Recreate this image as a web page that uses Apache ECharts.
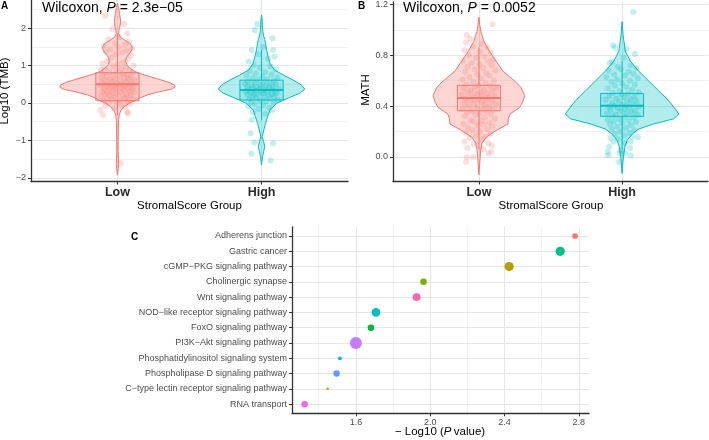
<!DOCTYPE html>
<html><head><meta charset="utf-8">
<script src="https://cdn.jsdelivr.net/npm/echarts@6/dist/echarts.min.js"></script>
<style>html,body{margin:0;padding:0;background:#fff}#c{width:709px;height:440px}</style>
</head><body><div id="c"></div>
<script>
// ---------------- data ----------------
const groups = ['Low', 'High'];
const groupColors = ['#F8766D', '#00BFC4'];
const pValueA = '2.3e−05';
const pValueB = '0.0052';
const tmbTicks = [-2, -1, 0, 1, 2];
const mathTicks = [0, 0.4, 0.8, 1.2];
const pTicks = [1.6, 2.0, 2.4, 2.8];

// violin outlines: [value, half-width in category units]
const tmbLowViolin = [[2.67,0],[2.55,0.007],[2.4,0.014],[2.25,0.02],[2.15,0.022],[2.05,0.017],[1.95,0.01],[1.85,0.009],[1.76,0.02],[1.68,0.05],[1.6,0.085],[1.5,0.103],[1.42,0.1],[1.33,0.085],[1.22,0.062],[1.1,0.057],[1.0,0.068],[0.92,0.09],[0.84,0.12],[0.77,0.17],[0.7,0.23],[0.62,0.3],[0.55,0.36],[0.48,0.395],[0.43,0.40],[0.37,0.375],[0.30,0.29],[0.22,0.21],[0.14,0.16],[0.08,0.13],[0.0,0.085],[-0.1,0.047],[-0.2,0.025],[-0.3,0.013],[-0.45,0.008],[-0.7,0.006],[-1.0,0.005],[-1.3,0.005],[-1.5,0.007],[-1.62,0.008],[-1.75,0.006],[-1.93,0]];
const tmbHighViolin = [[2.35,0],[2.25,0.004],[2.1,0.006],[1.95,0.008],[1.82,0.013],[1.7,0.022],[1.6,0.028],[1.42,0.035],[1.24,0.046],[1.06,0.058],[0.88,0.09],[0.75,0.15],[0.61,0.22],[0.48,0.277],[0.37,0.30],[0.26,0.265],[0.13,0.185],[-0.01,0.104],[-0.19,0.058],[-0.37,0.042],[-0.54,0.028],[-0.72,0.016],[-0.9,0.005],[-1.03,0.014],[-1.17,0.023],[-1.3,0.014],[-1.44,0.007],[-1.66,0]];
const mathLowViolin = [[1.10,0],[1.04,0.006],[0.99,0.013],[0.91,0.035],[0.83,0.075],[0.754,0.12],[0.676,0.167],[0.598,0.25],[0.546,0.295],[0.481,0.32],[0.43,0.305],[0.39,0.285],[0.338,0.217],[0.30,0.205],[0.26,0.203],[0.208,0.12],[0.156,0.051],[0.11,0.022],[0.05,0.012],[-0.03,0.007],[-0.14,0]];
const mathHighViolin = [[1.065,0],[0.96,0.007],[0.83,0.023],[0.754,0.058],[0.676,0.116],[0.598,0.186],[0.52,0.256],[0.442,0.326],[0.377,0.372],[0.338,0.396],[0.30,0.36],[0.26,0.22],[0.22,0.116],[0.18,0.07],[0.13,0.035],[0.078,0.019],[0.0,0.009],[-0.13,0]];

// box stats: [lower whisker, Q1, median, Q3, upper whisker]
const tmbLowBox = [-0.33, 0.06, 0.50, 0.81, 1.86];
const tmbHighBox = [-0.45, 0.08, 0.35, 0.61, 1.42];
const mathLowBox = [0.06, 0.364, 0.465, 0.564, 0.86];
const mathHighBox = [0.06, 0.32, 0.403, 0.50, 0.755];

// jittered samples: [jitter offset, value]
const tmbLowPoints = [[-0.086,2.33],[0.046,2.11],[0.069,1.86],[-0.035,1.97],[0.012,1.76],[-0.062,1.70],[0.081,1.64],[-0.018,1.60],[0.052,1.56],[-0.094,1.53],[0.006,1.49],[0.103,1.46],[-0.047,1.43],[0.064,1.40],[-0.081,1.37],[0.031,1.34],[-0.011,1.30],[0.092,1.27],[-0.041,1.22],[0.073,1.17],[-0.069,1.12],[0.041,1.09],[-0.104,1.06],[0.002,1.03],[0.112,1.00],[-0.028,0.98],[0.058,0.95],[-0.087,0.93],[0.026,0.91],[-0.115,0.89],[0.085,0.87],[-0.006,0.85],[-0.058,0.83],[0.107,0.82],[0.037,0.80],[-0.098,0.78],[0.066,0.76],[-0.031,0.75],[0.013,0.73],[-0.075,0.71],[0.094,0.70],[-0.118,0.68],[0.047,0.67],[-0.017,0.65],[0.078,0.64],[-0.052,0.62],[0.119,0.61],[-0.091,0.60],[0.021,0.58],[-0.036,0.57],[0.061,0.56],[-0.108,0.54],[0.099,0.53],[-0.002,0.52],[-0.066,0.51],[0.034,0.50],[0.087,0.49],[-0.025,0.48],[-0.117,0.47],[0.052,0.46],[0.008,0.45],[-0.079,0.44],[0.113,0.43],[-0.044,0.42],[0.071,0.41],[-0.012,0.40],[-0.096,0.39],[0.029,0.38],[0.104,0.37],[-0.058,0.36],[0.044,0.35],[-0.021,0.34],[0.082,0.32],[-0.107,0.31],[0.016,0.30],[-0.069,0.29],[0.117,0.28],[-0.033,0.27],[0.059,0.25],[-0.088,0.24],[0.003,0.23],[0.093,0.22],[-0.049,0.20],[0.038,0.19],[-0.114,0.18],[0.076,0.16],[-0.015,0.15],[-0.073,0.13],[0.049,0.12],[0.109,0.10],[-0.039,0.09],[0.019,0.07],[-0.099,0.06],[0.067,0.04],[-0.008,0.02],[-0.061,0.00],[0.088,-0.02],[0.027,-0.05],[-0.083,-0.08],[0.054,-0.11],[-0.023,-0.14],[-0.118,-0.19],[0.072,-0.24],[-0.100,-0.32],[0.070,-0.28],[0.023,-1.61]];
const tmbHighPoints = [[-0.030,2.11],[-0.046,1.95],[0.076,1.73],[-0.069,1.42],[0.080,1.42],[0.090,1.24],[-0.090,1.10],[0.010,1.50],[-0.020,1.30],[0.045,1.18],[-0.055,1.02],[0.062,0.98],[-0.012,0.94],[0.098,0.90],[-0.080,0.86],[0.025,0.83],[-0.040,0.79],[0.070,0.76],[-0.105,0.73],[0.005,0.71],[0.112,0.68],[-0.063,0.66],[0.038,0.64],[-0.025,0.62],[0.085,0.60],[-0.095,0.58],[0.015,0.56],[-0.048,0.55],[0.060,0.53],[-0.115,0.51],[0.100,0.50],[-0.008,0.48],[-0.070,0.47],[0.030,0.46],[0.078,0.44],[-0.035,0.43],[-0.100,0.42],[0.050,0.41],[0.002,0.40],[-0.060,0.39],[0.118,0.38],[-0.018,0.37],[0.068,0.36],[-0.088,0.35],[0.022,0.34],[-0.042,0.33],[0.092,0.32],[-0.110,0.31],[0.040,0.30],[-0.005,0.29],[-0.075,0.28],[0.105,0.27],[0.012,0.26],[-0.052,0.25],[0.072,0.24],[-0.028,0.22],[-0.098,0.21],[0.048,0.20],[0.088,0.18],[-0.062,0.17],[0.018,0.15],[-0.038,0.13],[0.058,0.11],[-0.085,0.10],[0.110,0.08],[-0.010,0.06],[0.032,0.04],[-0.072,0.02],[0.082,0.00],[-0.045,-0.03],[0.010,-0.06],[-0.092,-0.09],[0.055,-0.12],[-0.020,-0.16],[0.070,-0.20],[-0.060,-0.24],[0.025,-0.29],[-0.069,-0.45],[-0.076,-0.81],[-0.050,-1.06],[0.080,-1.08],[-0.070,-1.36],[0.063,-1.54]];
const mathLowPoints = [[0.096,1.044],[-0.085,0.96],[-0.060,0.93],[-0.090,0.90],[0.020,0.89],[-0.040,0.87],[0.060,0.86],[-0.100,0.84],[0.010,0.83],[0.085,0.82],[-0.070,0.80],[0.040,0.79],[-0.020,0.78],[0.100,0.77],[-0.110,0.76],[0.065,0.75],[-0.050,0.74],[0.005,0.73],[0.090,0.72],[-0.080,0.71],[0.030,0.70],[-0.030,0.69],[0.115,0.68],[-0.095,0.67],[0.050,0.66],[-0.010,0.65],[0.075,0.64],[-0.065,0.63],[0.015,0.62],[-0.115,0.61],[0.105,0.60],[-0.040,0.59],[0.045,0.58],[-0.085,0.57],[0.000,0.565],[0.080,0.56],[-0.025,0.55],[0.120,0.545],[-0.105,0.54],[0.035,0.53],[-0.055,0.525],[0.095,0.52],[0.010,0.51],[-0.075,0.505],[0.060,0.50],[-0.015,0.495],[-0.120,0.49],[0.025,0.485],[0.110,0.48],[-0.045,0.475],[0.070,0.47],[-0.090,0.46],[-0.005,0.455],[0.050,0.45],[-0.060,0.445],[0.088,0.44],[0.018,0.43],[-0.100,0.425],[-0.032,0.42],[0.118,0.415],[0.040,0.41],[-0.070,0.40],[0.072,0.395],[-0.012,0.39],[-0.112,0.38],[0.030,0.375],[0.098,0.37],[-0.048,0.36],[0.055,0.355],[-0.082,0.35],[0.005,0.34],[0.085,0.335],[-0.025,0.33],[-0.098,0.32],[0.042,0.31],[0.112,0.30],[-0.060,0.29],[0.015,0.285],[-0.038,0.28],[0.075,0.27],[-0.108,0.26],[0.032,0.255],[-0.010,0.25],[0.095,0.24],[-0.075,0.23],[0.058,0.22],[-0.045,0.21],[0.008,0.20],[-0.092,0.19],[0.080,0.18],[-0.020,0.17],[0.045,0.16],[-0.065,0.15],[0.020,0.14],[-0.100,0.12],[0.065,0.11],[-0.035,0.10],[0.090,0.09],[-0.080,0.07],[0.030,0.06],[0.086,0.04],[0.065,0.03],[-0.086,0.00],[-0.040,0.00],[-0.090,-0.04]];
const mathHighPoints = [[0.078,1.14],[-0.063,0.88],[-0.050,0.86],[0.030,0.85],[0.090,0.81],[-0.070,0.75],[-0.085,0.74],[0.010,0.78],[0.060,0.72],[-0.030,0.71],[0.100,0.70],[-0.010,0.69],[-0.095,0.68],[0.045,0.67],[0.080,0.655],[-0.055,0.65],[0.020,0.64],[-0.110,0.63],[0.110,0.62],[-0.035,0.61],[0.055,0.60],[-0.075,0.59],[0.000,0.58],[0.090,0.57],[-0.050,0.56],[0.030,0.55],[-0.100,0.54],[0.070,0.53],[-0.018,0.52],[0.115,0.51],[-0.065,0.505],[0.040,0.50],[-0.005,0.49],[-0.090,0.48],[0.085,0.475],[0.015,0.47],[-0.040,0.46],[0.060,0.455],[-0.115,0.45],[0.100,0.44],[-0.020,0.435],[0.035,0.43],[-0.070,0.42],[0.075,0.415],[0.005,0.41],[-0.055,0.405],[0.120,0.40],[-0.095,0.395],[0.050,0.39],[-0.030,0.385],[0.020,0.38],[-0.080,0.37],[0.090,0.365],[-0.010,0.36],[0.065,0.35],[-0.105,0.345],[0.030,0.34],[-0.045,0.335],[0.108,0.33],[-0.065,0.32],[0.012,0.315],[0.080,0.31],[-0.025,0.30],[-0.100,0.295],[0.045,0.29],[-0.060,0.28],[0.095,0.275],[0.000,0.27],[-0.085,0.26],[0.060,0.25],[-0.035,0.24],[0.025,0.23],[-0.070,0.22],[0.085,0.21],[-0.015,0.20],[0.050,0.19],[-0.050,0.18],[0.015,0.17],[0.070,0.16],[-0.080,0.15],[0.110,0.156],[-0.030,0.14],[0.060,0.12],[-0.060,0.12],[0.020,0.11],[-0.090,0.08],[0.055,0.07],[-0.100,0.04],[-0.010,0.05],[-0.097,0.013],[-0.016,0.03],[0.020,0.03],[0.060,0.01],[-0.020,-0.04]];

// panel C
const pathways = ['Adherens junction','Gastric cancer','cGMP−PKG signaling pathway','Cholinergic synapse','Wnt signaling pathway','NOD−like receptor signaling pathway','FoxO signaling pathway','PI3K−Akt signaling pathway','Phosphatidylinositol signaling system','Phospholipase D signaling pathway','C−type lectin receptor signaling pathway','RNA transport'];
const negLog10P = [2.78, 2.70, 2.425, 1.964, 1.927, 1.708, 1.681, 1.60, 1.514, 1.496, 1.448, 1.324];
const geneCount = [5, 10, 10, 6, 8, 9, 6, 15, 3, 6, 2, 6];
const pathwayColors = ['#F8766D','#00C08B','#B79F00','#7CAE00','#FF64B0','#00BFC4','#00BA38','#C77CFF','#00B4F0','#619CFF','#DE8C00','#F564E3'];

// ---------------- chart ----------------
const FONT = '"Liberation Sans", Arial, Helvetica, sans-serif';
function rgba(hex, a) {
  const n = parseInt(hex.slice(1), 16);
  return 'rgba(' + (n >> 16) + ',' + ((n >> 8) & 255) + ',' + (n & 255) + ',' + a + ')';
}
const minus = v => (v < 0 ? '−' + Math.abs(v) : String(v));
const AXIS_COL = '#333';
const axisLine = { show: true, onZero: false, lineStyle: { color: AXIS_COL, width: 1.3 } };
const tick = (vals) => ({ show: true, customValues: vals, length: 3, lineStyle: { color: AXIS_COL, width: 1 } });

function gridLineSeries(idx, hMajor, hMinor, vMajor, vMinor) {
  const data = [];
  hMinor.forEach(v => data.push({ yAxis: v, lineStyle: { color: '#F2F2F2', width: 1, type: 'solid' } }));
  vMinor.forEach(v => data.push({ xAxis: v, lineStyle: { color: '#F2F2F2', width: 1, type: 'solid' } }));
  hMajor.forEach(v => data.push({ yAxis: v, lineStyle: { color: '#E6E6E6', width: 1, type: 'solid' } }));
  vMajor.forEach(v => data.push({ xAxis: v, lineStyle: { color: '#E6E6E6', width: 1, type: 'solid' } }));
  return {
    type: 'line', xAxisIndex: idx, yAxisIndex: idx, data: [], z: 0, silent: true,
    markLine: { silent: true, z: 0, zlevel: 0, symbol: ['none', 'none'], label: { show: false }, animation: false, data: data }
  };
}
function violinSeries(idx, profiles) {
  return {
    type: 'custom', xAxisIndex: idx, yAxisIndex: idx, z: 2, silent: true,
    data: [[1, profiles[0][0][0]], [2, profiles[1][0][0]]],
    renderItem: function (params, api) {
      const c = api.value(0);
      const prof = profiles[c - 1];
      const col = groupColors[c - 1];
      const right = prof.map(p => api.coord([c + p[1], p[0]]));
      const left = prof.slice().reverse().map(p => api.coord([c - p[1], p[0]]));
      return { type: 'polygon', shape: { points: right.concat(left) },
        style: { fill: rgba(col, 0.3), stroke: col, lineWidth: 1 } };
    }
  };
}
function boxSeries(idx, boxes) {
  return {
    type: 'custom', xAxisIndex: idx, yAxisIndex: idx, z: 4, silent: true,
    data: boxes.map((b, i) => [i + 1].concat(b)),
    renderItem: function (params, api) {
      const c = api.value(0);
      const col = groupColors[c - 1];
      const lo = api.value(1), q1 = api.value(2), med = api.value(3), q3 = api.value(4), hi = api.value(5);
      const bw = 0.15;
      const tl = api.coord([c - bw, q3]), br = api.coord([c + bw, q1]);
      const m1 = api.coord([c - bw, med]), m2 = api.coord([c + bw, med]);
      const wTop = api.coord([c, hi]), wQ3 = api.coord([c, q3]);
      const wBot = api.coord([c, lo]), wQ1 = api.coord([c, q1]);
      const ls = { stroke: col, lineWidth: 1 };
      return { type: 'group', children: [
        { type: 'line', shape: { x1: wTop[0], y1: wTop[1], x2: wQ3[0], y2: wQ3[1] }, style: ls },
        { type: 'line', shape: { x1: wBot[0], y1: wBot[1], x2: wQ1[0], y2: wQ1[1] }, style: ls },
        { type: 'rect', shape: { x: tl[0], y: tl[1], width: br[0] - tl[0], height: br[1] - tl[1] },
          style: { fill: rgba(col, 0.12), stroke: col, lineWidth: 1 } },
        { type: 'line', shape: { x1: m1[0], y1: m1[1], x2: m2[0], y2: m2[1] }, style: { stroke: col, lineWidth: 2 } }
      ] };
    }
  };
}
function jitterSeries(idx, pointSets) {
  return pointSets.map((pts, g) => ({
    type: 'scatter', xAxisIndex: idx, yAxisIndex: idx, z: 3, silent: true,
    symbol: 'circle', symbolSize: 6,
    itemStyle: { color: rgba(groupColors[g], 0.3) },
    data: pts.map(p => [g + 1 + p[0], p[1]])
  }));
}
function groupXAxis(idx) {
  return {
    type: 'value', gridIndex: idx, min: 0.4, max: 2.6,
    axisLine: axisLine, axisTick: tick([1, 2]), splitLine: { show: false }, minorSplitLine: { show: false },
    axisLabel: { customValues: [1, 2], formatter: v => groups[Math.round(v) - 1], fontFamily: FONT,
      fontSize: 12.5, fontWeight: 'bold', color: '#2b2b2b', margin: 5 }
  };
}
const sizeFromCount = c => 2.5 + (Math.sqrt(c) - Math.sqrt(2)) / (Math.sqrt(15) - Math.sqrt(2)) * 9.5;

const option = {
  animation: false,
  backgroundColor: '#fff',
  textStyle: { fontFamily: FONT },
  grid: [
    { left: 31, top: 0, width: 317, height: 181.5 },
    { left: 393, top: 0, width: 315, height: 181.5 },
    { left: 292, top: 226.8, width: 297, height: 186.5 }
  ],
  xAxis: [
    groupXAxis(0),
    groupXAxis(1),
    { type: 'value', gridIndex: 2, min: 1.256, max: 2.855,
      axisLine: axisLine, axisTick: tick(pTicks), splitLine: { show: false },
      axisLabel: { customValues: pTicks, formatter: v => v.toFixed(1), fontSize: 9, color: '#4D4D4D', margin: 5, fontFamily: FONT } }
  ],
  yAxis: [
    { type: 'value', gridIndex: 0, min: -2.10, max: 2.754,
      axisLine: axisLine, axisTick: tick(tmbTicks), splitLine: { show: false },
      axisLabel: { customValues: tmbTicks, formatter: minus, fontSize: 9, color: '#4D4D4D', margin: 5, fontFamily: FONT } },
    { type: 'value', gridIndex: 1, min: -0.193, max: 1.221,
      axisLine: axisLine, axisTick: tick(mathTicks), splitLine: { show: false },
      axisLabel: { customValues: mathTicks, formatter: v => v.toFixed(1), fontSize: 9, color: '#4D4D4D', margin: 5, fontFamily: FONT } },
    { type: 'value', gridIndex: 2, min: 0.4, max: 12.6, inverse: true,
      axisLine: axisLine, axisTick: tick(pathways.map((p, i) => i + 1)), splitLine: { show: false },
      axisLabel: { customValues: pathways.map((p, i) => i + 1), formatter: v => pathways[Math.round(v) - 1],
        fontSize: 9, color: '#4D4D4D', margin: 5, fontFamily: FONT } }
  ],
  series: [
    gridLineSeries(0, tmbTicks, [-1.5, -0.5, 0.5, 1.5, 2.5], [1, 2], []),
    gridLineSeries(1, mathTicks, [-0.2, 0.2, 0.6, 1.0], [1, 2], []),
    gridLineSeries(2, pathways.map((p, i) => i + 1), [], pTicks, [1.4, 1.8, 2.2, 2.6]),
    violinSeries(0, [tmbLowViolin, tmbHighViolin]),
    violinSeries(1, [mathLowViolin, mathHighViolin]),
    ...jitterSeries(0, [tmbLowPoints, tmbHighPoints]),
    ...jitterSeries(1, [mathLowPoints, mathHighPoints]),
    boxSeries(0, [tmbLowBox, tmbHighBox]),
    boxSeries(1, [mathLowBox, mathHighBox]),
    { type: 'scatter', xAxisIndex: 2, yAxisIndex: 2, z: 3, silent: true, symbol: 'circle',
      symbolSize: v => sizeFromCount(v[2]),
      data: negLog10P.map((x, i) => ({ value: [x, i + 1, geneCount[i]], itemStyle: { color: pathwayColors[i], opacity: 1 } })) }
  ],
  graphic: [
    { type: 'text', x: 1, y: 6, style: { text: 'A', font: 'bold 10px ' + FONT, fill: '#000', verticalAlign: 'middle' } },
    { type: 'text', x: 358, y: 6, style: { text: 'B', font: 'bold 10px ' + FONT, fill: '#000', verticalAlign: 'middle' } },
    { type: 'text', x: 131, y: 237, style: { text: 'C', font: 'bold 10px ' + FONT, fill: '#000', verticalAlign: 'middle' } },
    { type: 'text', x: 42, y: 8, z: 10, style: { text: '{a|Wilcoxon, }{i|P}{a| = ' + pValueA + '}', verticalAlign: 'middle',
      rich: { a: { fontSize: 14, fontFamily: FONT, fill: '#000' }, i: { fontSize: 14, fontFamily: FONT, fontStyle: 'italic', fill: '#000' } } } },
    { type: 'text', x: 403, y: 8, z: 10, style: { text: '{a|Wilcoxon, }{i|P}{a| = ' + pValueB + '}', verticalAlign: 'middle',
      rich: { a: { fontSize: 14, fontFamily: FONT, fill: '#000' }, i: { fontSize: 14, fontFamily: FONT, fontStyle: 'italic', fill: '#000' } } } },
    { type: 'text', x: 5, y: 91, rotation: Math.PI / 2, style: { text: 'Log10 (TMB)', font: '11.5px ' + FONT, fill: '#000', align: 'center', verticalAlign: 'middle' } },
    { type: 'text', x: 366, y: 90, rotation: Math.PI / 2, style: { text: 'MATH', font: '11.5px ' + FONT, fill: '#000', align: 'center', verticalAlign: 'middle' } },
    { type: 'text', x: 189.5, y: 206, style: { text: 'StromalScore Group', font: '11.5px ' + FONT, fill: '#000', align: 'center', verticalAlign: 'middle' } },
    { type: 'text', x: 551, y: 206, style: { text: 'StromalScore Group', font: '11.5px ' + FONT, fill: '#000', align: 'center', verticalAlign: 'middle' } },
    { type: 'text', x: 440, y: 432, style: { text: '{a|− Log10 (}{i|P}{a|\u2009value)}', align: 'center', verticalAlign: 'middle',
      rich: { a: { fontSize: 11.5, fontFamily: FONT, fill: '#000' }, i: { fontSize: 11.5, fontFamily: FONT, fontStyle: 'italic', fill: '#000' } } } }
  ]
};
const chart = echarts.init(document.getElementById('c'), null, { renderer: 'canvas' });
chart.setOption(option);
</script>
</body></html>
